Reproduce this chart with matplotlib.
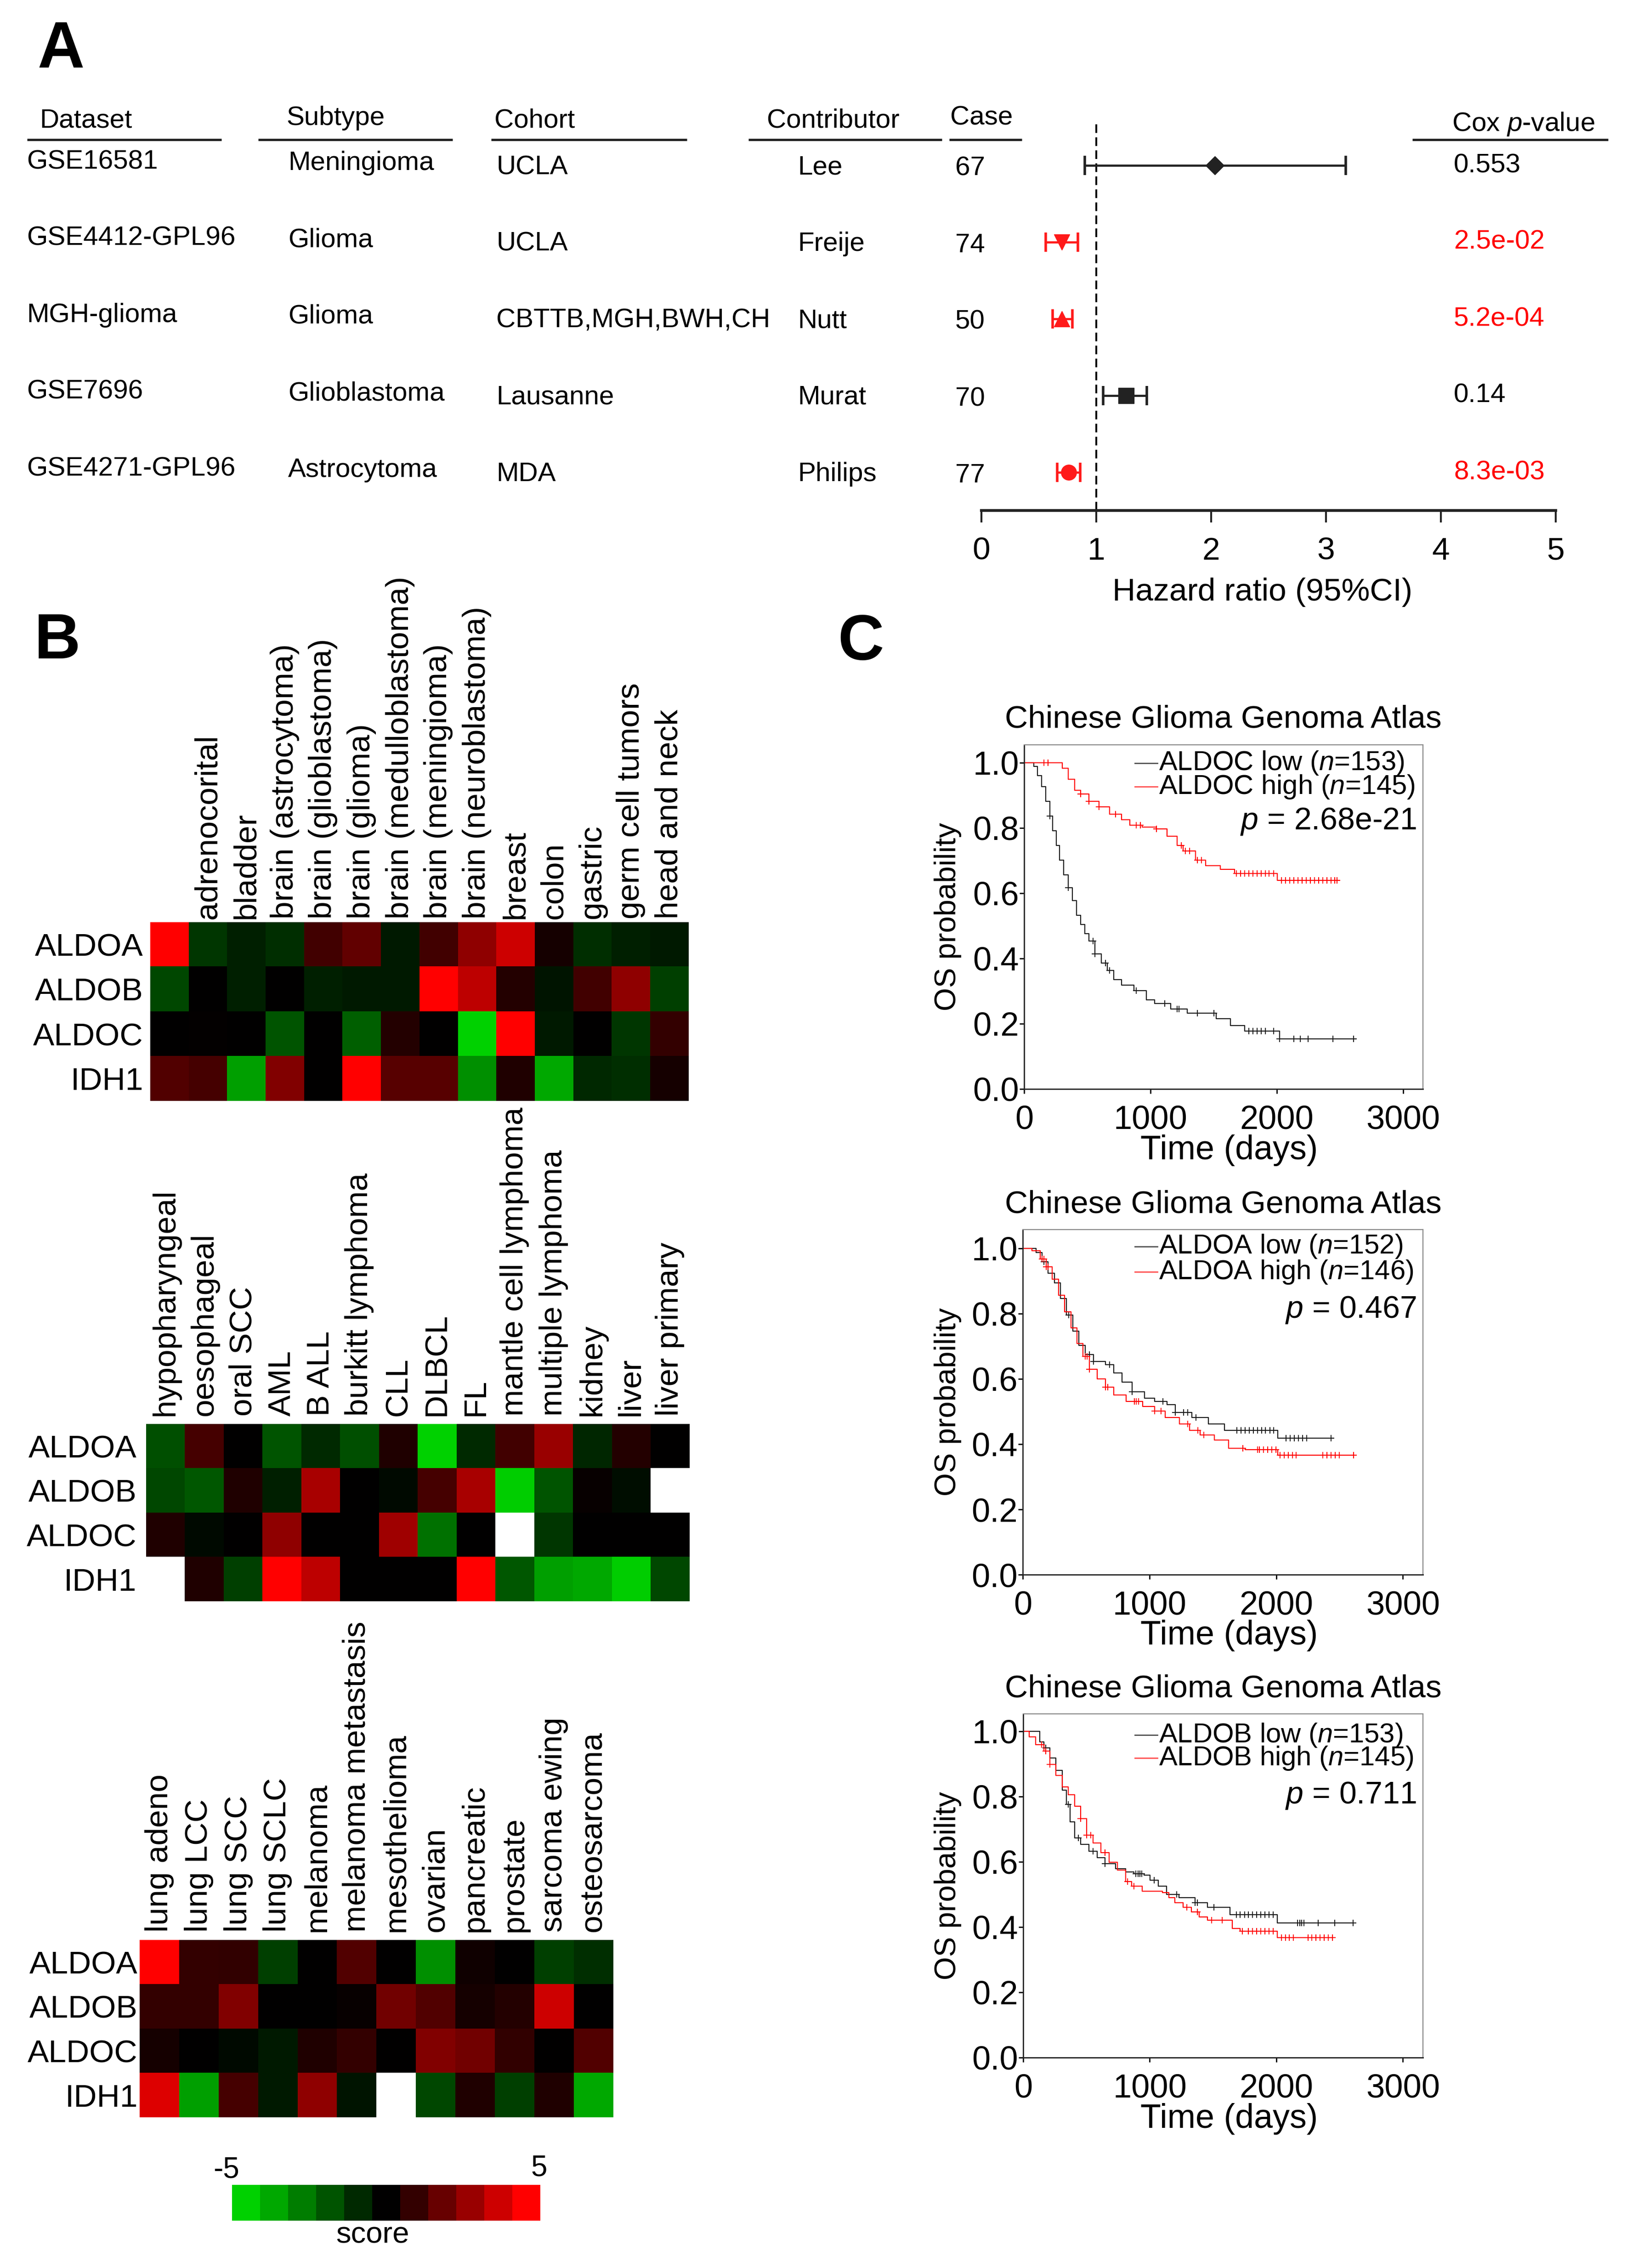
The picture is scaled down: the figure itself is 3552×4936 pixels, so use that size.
import numpy as np
import matplotlib
matplotlib.use("Agg")
import matplotlib.pyplot as plt
from matplotlib.colors import LinearSegmentedColormap

plt.rcParams["font.family"] = ["Liberation Sans", "DejaVu Sans"]
plt.rcParams["mathtext.fontset"] = "custom"
plt.rcParams["mathtext.rm"] = "Liberation Sans"
plt.rcParams["mathtext.it"] = "Liberation Sans:italic"

# ---- panel A: forest table ----
datasets = ["GSE16581", "GSE4412-GPL96", "MGH-glioma", "GSE7696", "GSE4271-GPL96"]
subtypes = ["Meningioma", "Glioma", "Glioma", "Glioblastoma", "Astrocytoma"]
cohorts = ["UCLA", "UCLA", "CBTTB,MGH,BWH,CH", "Lausanne", "MDA"]
contributors = ["Lee", "Freije", "Nutt", "Murat", "Philips"]
cases = [67, 74, 50, 70, 77]
hr = [2.03, 0.70, 0.70, 1.26, 0.76]
hr_lo = [0.90, 0.56, 0.62, 1.06, 0.66]
hr_hi = [3.17, 0.84, 0.79, 1.44, 0.86]
cox_p = ["0.553", "2.5e-02", "5.2e-04", "0.14", "8.3e-03"]
signif = [False, True, True, False, True]
hr_markers = ["D", "v", "^", "s", "o"]

# ---- panel B: heatmaps ----
genes = ["ALDOA", "ALDOB", "ALDOC", "IDH1"]
cancers1 = ["", "adrenocorital", "bladder", "brain (astrocytoma)", "brain (glioblastoma)",
            "brain (glioma)", "brain (medulloblastoma)", "brain (meningioma)",
            "brain (neuroblastoma)", "breast", "colon", "gastric", "germ cell tumors",
            "head and neck"]
scores1 = [
    [5, -1.3, -0.75, -1.1, 1.25, 1.9, -0.6, 1.25, 2.8, 4, 0.4, -1.1, -0.75, -0.6],
    [-1.7, 0, -0.75, 0, -0.75, -0.6, -0.6, 5, 3.7, 0.7, -0.5, 1.25, 2.8, -1.5],
    [0, 0.05, 0, -2, 0, -2.3, 0.7, 0, -5, 5, -0.6, 0, -1.3, 1],
    [1.6, 1.35, -3.8, 2.5, 0, 5, 1.7, 1.7, -3.4, 0.6, -4, -0.95, -1.1, 0.4],
]
cancers2 = ["hypopharyngeal", "oesophageal", "oral SCC", "AML", "B ALL", "burkitt lymphoma",
            "CLL", "DLBCL", "FL", "mantle cell lymphoma", "multiple lymphoma", "kidney",
            "liver", "liver primary"]
scores2 = [
    [-1.9, 1.35, 0, -2, -1, -1.9, 0.6, -5, -1, 1.25, 3, -0.9, 0.7, 0],
    [-1.7, -2.1, 0.6, -0.75, 3.3, 0, -0.2, 1.35, 3.3, -4.9, -2, 0.15, -0.35, np.nan],
    [0.6, -0.2, 0, 2.8, 0, 0, 3.1, -2.7, 0, np.nan, -1.3, 0, 0, 0],
    [np.nan, 0.6, -1.5, 5, 3.7, 0, 0, 0, 5, -2.1, -3.8, -4, -4.9, -1.7],
]
cancers3 = ["lung adeno", "lung LCC", "lung SCC", "lung SCLC", "melanoma",
            "melanoma metastasis", "mesothelioma", "ovarian", "pancreatic", "prostate",
            "sarcoma ewing", "osteosarcoma"]
scores3 = [
    [5, 1, 0.95, -1.5, 0, 1.6, 0, -3.4, 0.3, 0, -1.5, -1.1],
    [1, 1, 2.5, 0, 0, 0.15, 2.2, 1.6, 0.4, 0.7, 4, 0],
    [0.4, 0, -0.2, -0.6, 0.6, 1, 0, 2.5, 2.2, 0.95, 0, 1.6],
    [4.3, -3.8, 1.35, -0.6, 2.8, -0.5, np.nan, -1.7, 0.6, -1.5, 0.6, -4],
]
score_levels = [-5, -4, -3, -2, -1, 0, 1, 2, 3, 4, 5]

# ---- panel C: Kaplan-Meier curves (time in days, survival) ----
aldoc_low_t = [0, 75, 107, 140, 172, 205, 227, 253, 279, 312, 351, 383, 416, 448, 481, 513,
               562, 610, 659, 708, 773, 870, 968, 1032, 1162, 1292, 1519, 1633, 1747, 2023, 2623]
aldoc_low_s = [1.0, 0.989, 0.96, 0.927, 0.882, 0.837, 0.791, 0.746, 0.701, 0.656, 0.617,
               0.577, 0.532, 0.504, 0.476, 0.453, 0.414, 0.386, 0.363, 0.335, 0.318, 0.301,
               0.273, 0.262, 0.245, 0.233, 0.216, 0.194, 0.177, 0.154, 0.154]
aldoc_low_c = [205, 351, 545, 562, 643, 675, 886, 1114, 1211, 1227, 1373, 1503, 1779, 1812,
               1844, 1876, 1909, 1974, 2023, 2136, 2185, 2250, 2445, 2607]
aldoc_high_t = [0, 302, 351, 399, 448, 513, 594, 675, 773, 838, 935, 1049, 1130, 1211, 1260,
                1357, 1438, 1552, 1666, 2006, 2494]
aldoc_high_s = [1.0, 0.983, 0.949, 0.915, 0.904, 0.882, 0.865, 0.842, 0.825, 0.808, 0.803,
                0.797, 0.775, 0.746, 0.729, 0.701, 0.684, 0.673, 0.660, 0.639, 0.639]
aldoc_high_c = [156, 188, 448, 513, 594, 724, 886, 919, 1049, 1243, 1276, 1308, 1373, 1406,
                1682, 1714, 1747, 1779, 1812, 1844, 1876, 1909, 1941, 1974, 2039, 2071, 2104,
                2136, 2169, 2201, 2234, 2266, 2299, 2331, 2364, 2396, 2429, 2461, 2477]

aldoa_low_t = [0, 104, 152, 201, 249, 298, 346, 395, 443, 492, 557, 654, 718, 783, 864, 961,
               1042, 1139, 1204, 1333, 1463, 1592, 2013, 2450]
aldoa_low_s = [1.0, 0.988, 0.959, 0.924, 0.895, 0.846, 0.796, 0.747, 0.703, 0.674, 0.654,
               0.644, 0.619, 0.590, 0.560, 0.541, 0.531, 0.521, 0.497, 0.482, 0.462, 0.442,
               0.418, 0.418]
aldoa_low_c = [168, 362, 524, 557, 686, 864, 1107, 1204, 1269, 1301, 1366, 1689, 1722, 1754,
               1787, 1819, 1852, 1884, 1916, 1949, 1981, 2078, 2110, 2143, 2175, 2207, 2240,
               2434]
aldoa_high_t = [0, 71, 136, 184, 233, 282, 330, 379, 427, 476, 524, 589, 654, 718, 816, 945,
                1042, 1123, 1236, 1317, 1398, 1511, 1625, 1754, 2013, 2612]
aldoa_high_s = [1.0, 0.993, 0.968, 0.944, 0.905, 0.856, 0.806, 0.757, 0.708, 0.669, 0.629,
                0.600, 0.575, 0.551, 0.531, 0.516, 0.501, 0.482, 0.462, 0.442, 0.428, 0.413,
                0.388, 0.383, 0.366, 0.366]
aldoa_high_c = [152, 168, 184, 201, 492, 508, 524, 654, 670, 880, 897, 913, 1042, 1091, 1301,
                1382, 1430, 1738, 1851, 1867, 1900, 1932, 1965, 1997, 2029, 2062, 2094, 2127,
                2159, 2369, 2401, 2434, 2466, 2499, 2612]

aldob_low_t = [0, 129, 162, 210, 259, 307, 340, 372, 405, 453, 518, 583, 647, 728, 809, 874,
               955, 1003, 1068, 1133, 1230, 1359, 1456, 1634, 2006, 2605]
aldob_low_s = [1.0, 0.968, 0.949, 0.919, 0.880, 0.820, 0.776, 0.722, 0.673, 0.653, 0.633,
               0.613, 0.594, 0.579, 0.569, 0.564, 0.559, 0.544, 0.525, 0.500, 0.490, 0.475,
               0.461, 0.438, 0.413, 0.413]
aldob_low_c = [178, 356, 437, 550, 647, 890, 906, 922, 938, 1036, 1214, 1359, 1375, 1505,
               1683, 1715, 1748, 1780, 1812, 1845, 1877, 1909, 1942, 1974, 2168, 2184, 2200,
               2217, 2330, 2460, 2605]
aldob_high_t = [0, 49, 97, 162, 210, 259, 307, 356, 405, 453, 502, 550, 615, 680, 744, 809,
                858, 939, 1100, 1149, 1197, 1262, 1327, 1392, 1456, 1650, 1715, 2006, 2443]
aldob_high_s = [1.0, 0.983, 0.959, 0.939, 0.899, 0.865, 0.830, 0.806, 0.771, 0.732, 0.682,
                0.658, 0.628, 0.599, 0.574, 0.539, 0.525, 0.510, 0.505, 0.490, 0.475, 0.461,
                0.446, 0.431, 0.421, 0.396, 0.387, 0.367, 0.367]
aldob_high_c = [146, 178, 210, 453, 502, 534, 647, 825, 874, 1294, 1375, 1489, 1570, 1731,
                1780, 1812, 1845, 1877, 1909, 1942, 1974, 2039, 2071, 2103, 2136, 2249, 2281,
                2314, 2346, 2378, 2411, 2443]

W, H = 3552, 4936
RED = "#ff1a1a"
fig = plt.figure(figsize=(W / 100, H / 100), dpi=100)


def box(x0, y0, x1, y1):
    return fig.add_axes([x0 / W, 1 - y1 / H, (x1 - x0) / W, (y1 - y0) / H])


bg = box(0, 0, W, H)
bg.set_xlim(0, W)
bg.set_ylim(H, 0)
bg.axis("off")
bg.set_zorder(5)

# panel letters
bg.text(133, 110, "A", fontsize=102, fontweight="bold", ha="center", va="center")
bg.text(125, 1397, "B", fontsize=100, fontweight="bold", ha="center", va="center")
bg.text(1873, 1400, "C", fontsize=100, fontweight="bold", ha="center", va="center")

# ---------------- A ----------------
fs_tab = 42
headers = [("Dataset", 86, 263, 59, 482), ("Subtype", 623, 257, 562, 985),
           ("Cohort", 1076, 263, 1069, 1495), ("Contributor", 1669, 263, 1629, 2050),
           ("Case", 2068, 257, 2066, 2224), ("Cox $p$-value", 3160, 270, 3074, 3500)]
for txt, tx, ty, lx0, lx1 in headers:
    bg.text(tx, ty, txt, fontsize=fs_tab, ha="left", va="center")
    bg.plot([lx0, lx1], [304, 304], color="#222222", lw=3.6, solid_capstyle="butt")

for i in range(len(datasets)):
    y = 360 + 167 * i
    bg.text(58, y - 8, datasets[i], fontsize=fs_tab, va="center")
    bg.text(627, y - 5, subtypes[i], fontsize=fs_tab, va="center")
    bg.text(1080, y + 4, cohorts[i], fontsize=fs_tab, va="center")
    bg.text(1736, y + 4, contributors[i], fontsize=fs_tab, va="center")
    bg.text(2079, y + 7, str(cases[i]), fontsize=fs_tab, va="center")
    bg.text(3164, y, cox_p[i], fontsize=fs_tab, va="center",
            color="#ff0000" if signif[i] else "black")

axf = box(2136, 267, 3386, 1111)
axf.set_xlim(0, 5)
axf.set_ylim(4.497, -0.557)
axf.axvline(1, color="black", lw=3, ls=(0, (4.5, 2.3)))
for i in range(len(hr)):
    c = RED if signif[i] else "#222222"
    axf.errorbar(hr[i], i, xerr=[[hr[i] - hr_lo[i]], [hr_hi[i] - hr[i]]], fmt="none",
                 ecolor=c, elinewidth=3.4, capsize=15, capthick=4)
    axf.plot(hr[i], i, marker=hr_markers[i], color=c, ms=24 if hr_markers[i] != "D" else 20,
             ls="none")
for s in ["top", "right", "left"]:
    axf.spines[s].set_visible(False)
axf.spines["bottom"].set_linewidth(4.3)
axf.spines["bottom"].set_color("#222222")
axf.set_yticks([])
axf.set_xticks([0, 1, 2, 3, 4, 5])
axf.tick_params(axis="x", direction="out", length=19, width=3, labelsize=50, pad=22,
                color="#222222")
axf.patch.set_alpha(0)
bg.text(2747, 1289, "Hazard ratio (95%CI)", fontsize=50, ha="center", va="center")

# ---------------- B ----------------
cmap = LinearSegmentedColormap.from_list(
    "gbr", [(0.0, (0, 0.82, 0)), (0.5, (0, 0, 0)), (1.0, (1, 0, 0))]).with_extremes(bad="white")


def heat(rect, scores, cols, colpad, rowpad):
    ax = box(*rect)
    ax.imshow(np.array(scores, dtype=float), cmap=cmap, vmin=-5, vmax=5, aspect="auto",
              interpolation="nearest")
    ax.xaxis.tick_top()
    ax.set_xticks(range(len(cols)))
    ax.set_xticklabels(cols, rotation=90, fontsize=50)
    ax.set_yticks(range(len(genes)))
    ax.set_yticklabels(genes, fontsize=50)
    ax.tick_params(axis="x", length=0, pad=colpad)
    ax.tick_params(axis="y", length=0, pad=rowpad)
    for s in ax.spines.values():
        s.set_visible(False)
    return ax


heat((327, 2007, 1498, 2396), scores1, cancers1, 5, 11)
heat((318, 3099, 1500, 3485), scores2, cancers2, 12, 15)
heat((304, 4222, 1334, 4608), scores3, cancers3, 12, 3)

axc = box(505, 4755, 1175, 4833)
axc.imshow(np.array([score_levels], dtype=float), cmap=cmap, vmin=-5, vmax=5, aspect="auto",
           interpolation="nearest")
axc.axis("off")
bg.text(492, 4723, "-5", fontsize=46, ha="center", va="center")
bg.text(1173, 4718, "5", fontsize=46, ha="center", va="center")
bg.text(811, 4865, "score", fontsize=47, ha="center", va="center")


# ---------------- C ----------------
def at(t, s, c):
    idx = np.searchsorted(t, c, side="right") - 1
    return np.asarray(s)[idx]


def km(rect, gene, low, high, n_low, n_high, ptxt, leg_y):
    x0, y0, x1, y1 = rect
    ax = box(*rect)
    for (t, s, c), col in [(low, "#1a1a1a"), (high, "#ff0000")]:
        ax.step(t, s, where="post", color=col, lw=1.6)
        ax.plot(c, at(t, s, c), "+", color=col, ms=10, mew=1.4, ls="none")
    ax.set_xlim(0, 3158)
    ax.set_ylim(0, (y1 - y0) / 710)
    ax.set_xticks([0, 1000, 2000, 3000])
    ax.set_yticks([0, 0.2, 0.4, 0.6, 0.8, 1.0])
    ax.set_yticklabels(["0.0", "0.2", "0.4", "0.6", "0.8", "1.0"])
    ax.tick_params(direction="out", length=7, width=2, labelsize=52)
    ax.tick_params(axis="y", pad=1)
    ax.tick_params(axis="x", pad=18)
    for s in ["left", "bottom"]:
        ax.spines[s].set_linewidth(2)
        ax.spines[s].set_color("#222222")
    for s in ["top", "right"]:
        ax.spines[s].set_linewidth(1.6)
        ax.spines[s].set_color("#888888")
    bg.text(2662, y0 - 55, "Chinese Glioma Genoma Atlas", fontsize=50, ha="center",
            va="center")
    bg.text(2063, (y0 + y1) / 2, "OS probability", fontsize=47, rotation=90, ha="center",
            va="center")
    bg.text(2675, y1 + 133, "Time (days)", fontsize=53, ha="center", va="center")
    ly1, ly2, ly3 = leg_y
    bg.plot([2470, 2519], [ly1, ly1], color="#505050", lw=2)
    bg.plot([2470, 2519], [ly2, ly2], color="#ff4d4d", lw=2)
    bg.text(2522, ly1, gene + " low ($n$=" + str(n_low) + ")", fontsize=43, va="center")
    bg.text(2522, ly2, gene + " high ($n$=" + str(n_high) + ")", fontsize=43, va="center")
    bg.text(3083, ly3, "$p$ = " + ptxt, fontsize=49, ha="right", va="center")
    return ax


km((2229, 1621, 3097, 2370), "ALDOC",
   (aldoc_low_t, aldoc_low_s, aldoc_low_c), (aldoc_high_t, aldoc_high_s, aldoc_high_c),
   153, 145, "2.68e-21", (1661, 1712, 1788))
km((2226, 2676, 3097, 3427), "ALDOA",
   (aldoa_low_t, aldoa_low_s, aldoa_low_c), (aldoa_high_t, aldoa_high_s, aldoa_high_c),
   152, 146, "0.467", (2713, 2768, 2851))
km((2227, 3730, 3097, 4478), "ALDOB",
   (aldob_low_t, aldob_low_s, aldob_low_c), (aldob_high_t, aldob_high_s, aldob_high_c),
   153, 145, "0.711", (3776, 3826, 3908))

fig.savefig("out.png", dpi=100)
